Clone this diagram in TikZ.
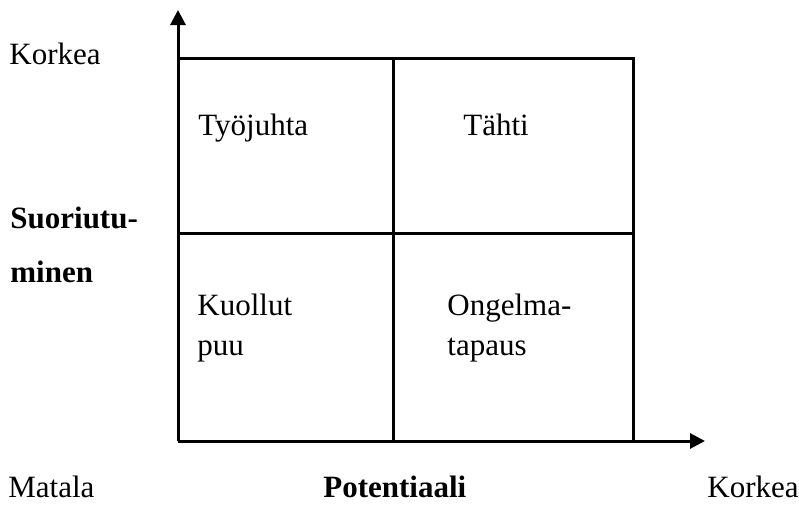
\documentclass[tikz,border=0pt]{standalone}
\usepackage{fontspec}
\setmainfont{Liberation Serif}
\usetikzlibrary{arrows.meta}

\begin{document}
\begin{tikzpicture}[x=0.5pt, y=-0.5pt,
axis/.style={black, line width=1.5pt, -{Triangle[length=7.5pt,width=7.5pt]}},
grid/.style={black, line width=1.5pt},
txt/.style={anchor=base west, inner sep=0pt, font=\fontsize{15.5}{18}\selectfont},
bold/.style={txt, font=\fontsize{15.5}{18}\selectfont\bfseries}]

\def\xl{178}
\def\xm{393}
\def\xr{633}
\def\yt{58}
\def\ym{233}
\def\yb{441}

\useasboundingbox (0,0) rectangle (799,509);

% corner points of the matrix
\coordinate (O) at (\xl,\yb);
\coordinate (ytip) at (\xl,10);
\coordinate (xtip) at (705,\yb);
\coordinate (tl) at (\xl,\yt);
\coordinate (tm) at (\xm,\yt);
\coordinate (tr) at (\xr,\yt);
\coordinate (ml) at (\xl,\ym);
\coordinate (mr) at (\xr,\ym);
\coordinate (bm) at (\xm,\yb);
\coordinate (br) at (\xr,\yb);

% MAIN AXES
\draw[axis] (O) -- (ytip);
\draw[axis] (O) -- (xtip);

% grid
\draw[grid] (tl) -- (tr) -- (br);
\draw[grid] (tm) -- (bm);
\draw[grid] (ml) -- (mr);

% quadrants
\node[txt] (tyojuhta) at (198,135) {Työjuhta};
\node[txt] (tahti) at (463,135) {Tähti};
\node[txt] (kuollut) at (197,315) {Kuollut};
\node[txt] (puu) at (197,355) {puu};
\node[txt] (ongelma) at (447,315) {Ongelma-};
\node[txt] (tapaus) at (447,355) {tapaus};

% axis labels
\node[txt] (ykorkea) at (9,64) {Korkea};
\node[bold] (suor) at (10,228) {Suoriutu-};
\node[bold] (minen) at (10,282) {minen};
\node[txt] (matala) at (8,497) {Matala};
\node[bold] (pot) at (323,497) {Potentiaali};
\node[txt] (xkorkea) at (707,497) {Korkea};

\end{tikzpicture}
\end{document}
